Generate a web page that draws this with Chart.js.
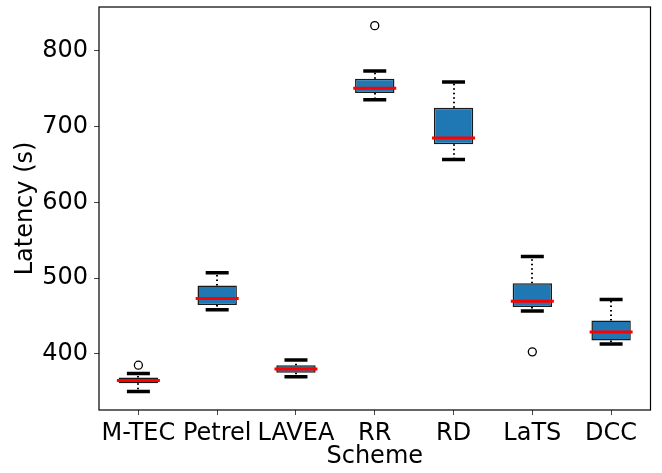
<!DOCTYPE html>
<html>
<head>
<meta charset="utf-8">
<script src="https://cdn.jsdelivr.net/npm/chart.js@4/dist/chart.umd.min.js"></script>
<style>
  html, body { margin: 0; padding: 0; background: #fff; }
  #wrap { width: 662px; height: 473px; }
</style>
</head>
<body>
<div id="wrap"><canvas id="c" width="662" height="473"></canvas></div>
<script>
// Latency distribution per scheme (seconds)
const categories  = ['M-TEC', 'Petrel', 'LAVEA', 'RR', 'RD', 'LaTS', 'DCC'];
const whiskerLow  = [350.3, 458.4, 369.7, 735.4, 656.3, 456.7, 412.9];
const q1          = [361.4, 464.6, 375.0, 744.2, 676.6, 462.0, 417.6];
const median      = [364.8, 473.0, 380.2, 750.4, 684.9, 469.5, 429.0];
const q3          = [368.8, 490.1, 385.1, 763.1, 724.8, 493.2, 443.9];
const whiskerHigh = [374.0, 507.2, 392.0, 773.2, 758.7, 528.4, 471.6];
const outliers    = [385.1, null, null, 833.0, null, 402.7, null];
const yTicks      = [400, 500, 600, 700, 800];
const yMin = 326, yMax = 857.6;

const FONT = 'DejaVu Sans';

// dotted whiskers between box edges and caps
const whiskerPlugin = {
  id: 'whiskers',
  beforeDatasetsDraw(chart) {
    const { ctx, scales: { x, y } } = chart;
    ctx.save();
    ctx.strokeStyle = '#000';
    ctx.lineWidth = 2;
    ctx.setLineDash([1.5, 3]);
    categories.forEach((_, i) => {
      const px = Math.round(x.getPixelForValue(i));
      ctx.beginPath();
      ctx.moveTo(px, y.getPixelForValue(q3[i]));
      ctx.lineTo(px, y.getPixelForValue(whiskerHigh[i]));
      ctx.moveTo(px, y.getPixelForValue(q1[i]));
      ctx.lineTo(px, y.getPixelForValue(whiskerLow[i]));
      ctx.stroke();
    });
    ctx.restore();
  }
};

// full frame around the plot area
const framePlugin = {
  id: 'frame',
  beforeDatasetsDraw(chart) {
    const { ctx, chartArea: a } = chart;
    ctx.save();
    ctx.strokeStyle = '#000';
    ctx.lineWidth = 1.2;
    ctx.strokeRect(a.left, a.top, a.right - a.left, a.bottom - a.top);
    ctx.restore();
  }
};

new Chart(document.getElementById('c'), {
  type: 'bar',
  data: {
    labels: categories,
    datasets: [
      {
        label: 'IQR',
        data: categories.map((_, i) => [q1[i], q3[i]]),
        backgroundColor: '#1f77b4',
        borderColor: '#1a1a1a',
        borderWidth: 1.5,
        borderSkipped: false,
        barPercentage: 0.5,
        categoryPercentage: 1,
        order: 5
      },
      {
        type: 'line',
        label: 'upper cap',
        data: whiskerHigh,
        showLine: false,
        pointStyle: 'line',
        pointRadius: 11.5,
        pointBorderWidth: 3.5,
        pointBorderColor: '#000',
        pointBackgroundColor: '#000',
        order: 3
      },
      {
        type: 'line',
        label: 'lower cap',
        data: whiskerLow,
        showLine: false,
        pointStyle: 'line',
        pointRadius: 11.5,
        pointBorderWidth: 3.5,
        pointBorderColor: '#000',
        pointBackgroundColor: '#000',
        order: 3
      },
      {
        type: 'line',
        label: 'median',
        data: median,
        showLine: false,
        pointStyle: 'line',
        pointRadius: 21.5,
        pointBorderWidth: 3,
        pointBorderColor: '#ff0000',
        pointBackgroundColor: '#ff0000',
        order: 1
      },
      {
        type: 'line',
        label: 'outliers',
        data: outliers,
        showLine: false,
        pointStyle: 'circle',
        pointRadius: 4,
        pointBorderWidth: 1.3,
        pointBorderColor: '#000',
        pointBackgroundColor: 'rgba(0,0,0,0)',
        order: 0
      }
    ]
  },
  options: {
    responsive: false,
    maintainAspectRatio: false,
    animation: false,
    events: [],
    layout: { autoPadding: false, padding: { left: 0, right: 11.5, top: 7, bottom: 0 } },
    plugins: { legend: { display: false }, tooltip: { enabled: false } },
    scales: {
      x: {
        type: 'category',
        offset: true,
        afterFit(scale) { scale.height = 63; scale.paddingLeft = 0; scale.paddingRight = 0; },
        border: { display: false },
        grid: { offset: false, drawOnChartArea: false, drawTicks: true, tickLength: 5, color: '#444', lineWidth: 1 },
        ticks: { color: '#000', font: { family: FONT, size: 24 }, padding: 4, maxRotation: 0, autoSkip: false },
        title: { display: true, text: 'Scheme', color: '#000', font: { family: FONT, size: 24 }, padding: { top: 0, bottom: 1.6 } }
      },
      y: {
        type: 'linear',
        min: yMin,
        max: yMax,
        afterFit(scale) { scale.width = 99; scale.paddingTop = 0; scale.paddingBottom = 0; },
        afterBuildTicks(scale) { scale.ticks = yTicks.map(v => ({ value: v })); },
        border: { display: false },
        grid: { drawOnChartArea: false, drawTicks: true, tickLength: 5, color: '#444', lineWidth: 1 },
        ticks: { color: '#000', font: { family: FONT, size: 24 }, padding: 6 },
        title: { display: true, text: 'Latency (s)', color: '#000', font: { family: FONT, size: 24 }, padding: { top: 11, bottom: 0 } }
      }
    }
  },
  plugins: [framePlugin, whiskerPlugin]
});
</script>
</body>
</html>
